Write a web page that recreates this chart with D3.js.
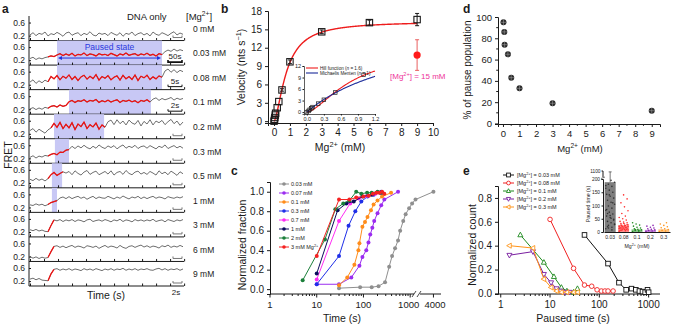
<!DOCTYPE html>
<html lang="en">
<head>
<meta charset="UTF-8">
<title>Mg2+ dependence of transcription pausing</title>
<script src="https://d3js.org/d3.v7.min.js"></script>
<style>
  body { margin: 0; background: #fff; }
  svg { display: block; font-family: "Liberation Sans", Arial, sans-serif; }
</style>
</head>
<body>
<svg width="674" height="324"></svg>
<script>
// ---------- data ----------
// panel a: single-molecule FRET traces (FRET x 100), one per [Mg2+]
const mgLabels = ["0 mM", "0.03 mM", "0.08 mM", "0.1 mM", "0.2 mM", "0.3 mM", "0.5 mM", "1 mM", "3 mM", "6 mM", "9 mM"];
const traces = [
  "22 29 20 27 24 31 19 26 23 30 25 18 28 31 21 26 29 20 27 23 32 22 19 28 24 27 20 30 25 21 29 18 27 24 31 20 26 29 22 27 19 31 24 21 29 25 20 27 32 22 28 24",
  "25 29 22 27 24 28 30 33 31 36 40 34 39 35 41 33 38 36 42 34 39 37 33 40 36 38 34 41 37 33 39 36 42 35 38 40 34 39 36 41 35 38 33 40 37 46 51 47 54 48 52 49",
  "28 35 24 32 26 34 29 45 38 48 35 46 40 50 36 45 33 44 49 37 46 39 51 34 45 40 48 35 43 47 34 49 38 45 36 50 33 46 41 49 36 44 38 47 43 62 68 58 66 57 64 60",
  "21 25 19 24 20 26 23 29 31 27 33 29 32 43 47 41 46 44 49 42 47 45 50 41 46 43 48 42 46 49 41 47 44 48 43 46 40 47 44 49 42 51 55 47 53 49 52 56 48 54 50 53",
  "30 36 25 34 28 22 32 38 52 40 55 36 49 38 54 33 50 42 56 36 48 41 53 34 47 40 57 62 48 63 51 59 47 62 53 49 61 44 58 50 63 47 59 54 61 48 57 64 51 59 46 56",
  "23 28 21 27 24 29 27 32 35 31 39 38 45 47 57 50 58 52 60 53 49 57 51 61 54 50 58 53 59 49 56 61 51 57 53 60 50 56 58 51 59 54 49 57 53 61 50 55 59 52 57 51",
  "31 27 34 28 32 26 33 45 52 43 49 54 50 55 45 57 49 44 53 58 46 52 56 45 50 55 47 57 44 52 55 46 58 49 45 53 56 47 52 46 55 50 44 57 48 53 45 56 50 43 54 48",
  "28 26 31 27 30 25 29 35 38 41 49 52 47 53 47 51 54 48 52 45 50 54 47 52 49 48 54 50 46 52 48 55 50 46 52 49 54 47 52 47 51 54 48 52 50 46 53 50 48 52 49 53",
  "27 24 28 23 26 22 21 40 57 54 58 52 57 54 58 52 57 55 51 57 59 52 55 57 53 58 55 51 57 54 59 52 57 55 51 58 54 57 53 57 54 59 52 55 57 51 58 55 52 57 54 58",
  "20 15 19 14 18 15 17 35 51 53 48 52 47 51 54 48 52 50 46 53 51 48 52 45 50 54 48 52 50 46 54 48 45 51 53 48 52 55 49 53 48 52 50 46 53 50 55 48 52 49 54 50",
  "26 29 24 28 23 22 21 42 56 58 53 57 54 58 53 57 55 52 58 54 57 53 58 55 52 57 54 58 53 57 55 59 53 57 54 58 53 57 55 58 54 53 57 59 54 58 53 57 55 58 53 57"
];
// paused (red) segment and shaded pause window, in trace sample units
const redSpans = [null, [6, 44], [6, 44], [6, 40], [7, 25], [6, 13], [6, 11], [6, 9], [6, 8], [6, 8], [6, 8]];
const pauseSpans = [null, [9, 44], [9, 44], [13, 40.3], [8, 24.7], [8.3, 13], [7.3, 10.7], [7.3, 9], null, null, null];
const scaleBarText = ["", "50s", "5s", "2s", "", "", "", "", "", "", "2s"];

// panel b: velocity vs Mg2+
const bConc = [0, 0.03, 0.05, 0.08, 0.1, 0.2, 0.3, 0.5, 1, 3, 6, 9];
const bVel = [0, 0.3, 0.6, 1.0, 1.3, 2.2, 3.2, 5.1, 9.7, 14.6, 16.1, 16.6];
const bErr = [0, 0, 0, 0, 0, 0, 0, 0.2, 0.3, 0.3, 0.4, 1.0];
const hillVmax = 16.3, hillK = 0.8, hillN = 1.6;
const mmVmax = 24.1, mmK = 1.91;
const highMg = { conc: 9, vel: 10.8, err: 2.5 };

// panel c: cumulative fraction vs time
const cNames = ["0.03 mM", "0.07 mM", "0.1 mM", "0.3 mM", "0.7 mM", "1 mM", "2 mM", "3 mM Mg^{2+}"];
const cColors = ["#8f8f8f", "#9b2cf0", "#ff8c1a", "#1f2fe8", "#ff2cf4", "#0b0b5c", "#1b7f3a", "#f52222"];
const cTimes = [
  [30, 85, 150, 210, 290, 355, 410, 475, 550, 610, 710, 800, 950, 1100, 1300, 4000],
  [10, 30, 55, 82, 95, 115, 128, 140, 155, 170, 200, 240, 280, 550],
  [30, 45, 64, 78, 82, 95, 108, 122, 145, 165, 200, 250, 390],
  [10, 30, 48, 67, 90, 122, 165, 240],
  [10, 30, 52, 80, 120, 180, 250],
  [10, 28, 43, 62, 95, 150, 230],
  [5, 15, 25, 37, 50, 70, 90, 120, 150, 200, 250],
  [10, 30, 50, 70, 100, 130, 160, 190, 220, 250, 280]
];
const cFrac = [
  [0.01, 0.02, 0.02, 0.03, 0.07, 0.23, 0.34, 0.42, 0.5, 0.6, 0.7, 0.77, 0.83, 0.88, 0.92, 1.0],
  [0.05, 0.05, 0.12, 0.24, 0.33, 0.40, 0.48, 0.56, 0.63, 0.70, 0.78, 0.86, 0.92, 1.0],
  [0.04, 0.12, 0.25, 0.40, 0.47, 0.64, 0.69, 0.74, 0.81, 0.87, 0.91, 0.95, 0.99],
  [0.05, 0.34, 0.65, 0.80, 0.90, 0.95, 0.97, 1.0],
  [0.10, 0.70, 0.88, 0.93, 0.96, 0.98, 0.99],
  [0.16, 0.81, 0.88, 0.90, 0.95, 0.97, 0.99],
  [0.09, 0.51, 0.82, 0.88, 0.91, 1.0, 0.98, 0.99, 0.99, 1.0, 0.99],
  [0.34, 0.92, 0.92, 0.94, 0.95, 0.96, 0.98, 0.99, 0.99, 1.0, 0.98]
];

// panel d: % of pause population
const dConc = [0.03, 0.08, 0.1, 0.3, 0.5, 1, 3, 9];
const dPause = [95, 86, 74, 65, 43, 33, 19, 12];

// panel e: paused time distributions
const eNames = ["[Mg^{2+}] = 0.03 mM", "[Mg^{2+}] = 0.08 mM", "[Mg^{2+}] = 0.1 mM", "[Mg^{2+}] = 0.2 mM", "[Mg^{2+}] = 0.3 mM"];
const eColors = ["#111111", "#f02020", "#1f8a1f", "#7a1fa0", "#ff9419"];
const eSymbols = ["square", "circle", "up", "down", "left"];
const eTimes = [
  [50, 150, 250, 350, 450, 550, 650, 750, 850, 950, 1000],
  [10, 30, 50, 70, 90, 110, 130, 150, 190],
  [2.5, 7.5, 12, 17, 22, 30, 36],
  [1.5, 4.5, 7.5, 10.5, 13.5, 16.5, 20, 25],
  [1.5, 4.5, 7.5, 10.5, 13.5, 17, 22, 30, 36]
];
const eCount = [
  [0.49, 0.25, 0.09, 0.03, 0.04, 0.03, 0.02, 0.015, 0.01, 0.03, 0.01],
  [0.62, 0.21, 0.07, 0.06, 0.03, 0.02, 0.02, 0.02, 0.02],
  [0.49, 0.26, 0.14, 0.05, 0.02, 0.01, 0.04],
  [0.32, 0.35, 0.16, 0.09, 0.04, 0.02, 0.01, 0.01],
  [0.40, 0.38, 0.12, 0.05, 0.02, 0.01, 0.01, 0.01, 0.01]
];
// inset of e: mean paused time and individual events
const insetCats = ["0.03", "0.08", "0.1", "0.2", "0.3"];
const insetMeans = [188, 25, 10, 8, 10];
const insetEvents = [
  [12, 18, 25, 30, 35, 40, 48, 55, 60, 68, 75, 82, 90, 98, 105, 112, 120, 128, 135, 142, 150, 158, 165, 172, 180, 188, 195, 20, 45, 62, 85, 110, 140, 175, 8, 15, 28, 52, 70],
  [3, 5, 7, 8, 10, 12, 14, 15, 17, 18, 20, 22, 24, 25, 27, 30, 32, 35, 38, 40, 45, 50, 55, 60, 70, 80, 95, 110, 125, 140, 6, 9, 11, 13, 16, 19, 21, 23, 26, 28, 33],
  [2, 4, 6, 8, 10, 12, 15, 18, 22, 26, 30, 35, 5, 9],
  [2, 4, 6, 8, 10, 12, 15, 18, 22, 25],
  [2, 4, 6, 9, 12, 16, 20, 25, 30, 35]
];
const insetColors = ["#777777", "#ff3030", "#1f8a1f", "#8a1fb0", "#ff9419"];

// ---------- helpers ----------
const svg = d3.select("svg");
const INK = "#1a1a1a";

function rich(t, str, fs) {
  const parts = str.split(/(\^\{[^}]*\}|\*\{[^}]*\})/).filter(s => s.length);
  let up = false;
  parts.forEach(p => {
    if (p.startsWith("^{")) {
      t.append("tspan").attr("dy", -fs * 0.38).attr("font-size", fs * 0.7).text(p.slice(2, -1));
      up = true;
    } else if (p.startsWith("*{")) {
      t.append("tspan").attr("dy", up ? fs * 0.38 : 0).attr("font-style", "italic").text(p.slice(2, -1));
      up = false;
    } else {
      t.append("tspan").attr("dy", up ? fs * 0.38 : 0).text(p);
      up = false;
    }
  });
}

function label(g, x, y, str, fs, o = {}) {
  const t = g.append("text")
    .attr("x", x).attr("y", y)
    .attr("font-size", fs)
    .attr("text-anchor", o.anchor || "start")
    .attr("fill", o.fill || INK);
  if (o.weight) t.attr("font-weight", o.weight);
  if (o.rotate) t.attr("transform", `rotate(-90,${x},${y})`);
  rich(t, str, fs);
  return t;
}

function styleAxis(g, fs) {
  g.attr("font-family", null).attr("font-size", fs);
  g.selectAll("path.domain").attr("stroke", INK).attr("stroke-width", 1);
  g.selectAll(".tick line").attr("stroke", INK);
  g.selectAll(".tick text").attr("fill", INK);
  return g;
}

function marker(g, type, x, y, s, color, fill) {
  let p;
  if (type === "square") {
    p = g.append("rect").attr("x", x - s).attr("y", y - s).attr("width", 2 * s).attr("height", 2 * s);
  } else if (type === "circle") {
    p = g.append("circle").attr("cx", x).attr("cy", y).attr("r", s);
  } else {
    const pts = {
      up: [[0, -1.2], [1.1, 0.8], [-1.1, 0.8]],
      down: [[0, 1.2], [1.1, -0.8], [-1.1, -0.8]],
      left: [[-1.2, 0], [0.8, -1.1], [0.8, 1.1]]
    }[type];
    p = g.append("path").attr("d", "M" + pts.map(q => [x + q[0] * s, y + q[1] * s].join(",")).join("L") + "Z");
  }
  p.attr("fill", fill || "#fff").attr("stroke", color).attr("stroke-width", 0.9);
  return p;
}

// ---------- panel a ----------
const ga = svg.append("g");
label(ga, 2, 13, "a", 12, { weight: "bold" });
const rowBand = d3.scaleBand().domain(d3.range(traces.length)).range([16, 286]);
const tScale = d3.scaleLinear().domain([0, 51]).range([30, 183]);
const axisLeftX = 29;
label(ga, 127, 20, "DNA only", 9.5);
label(ga, 186, 20, "[Mg^{2+}]", 9.5);

traces.forEach((str, r) => {
  const vals = str.trim().split(/\s+/).map(v => +v / 100);
  const top = rowBand(r), bot = top + rowBand.bandwidth();
  const y = d3.scaleLinear().domain([0.05, 0.8]).range([bot, top]);
  const row = ga.append("g");

  if (pauseSpans[r]) {
    row.append("rect")
      .attr("x", tScale(pauseSpans[r][0])).attr("y", top)
      .attr("width", tScale(pauseSpans[r][1]) - tScale(pauseSpans[r][0]))
      .attr("height", bot - top)
      .attr("fill", "#c8c8f5");
  }
  const pts = vals.map((v, i) => [i, v]);
  const line = d3.line().x(d => tScale(d[0])).y(d => y(d[1]));
  row.append("path")
    .attr("d", line(pts))
    .attr("fill", "none").attr("stroke", "#6e6e6e").attr("stroke-width", 1);
  if (redSpans[r]) {
    const seg = pts.filter(d => d[0] >= redSpans[r][0] && d[0] <= redSpans[r][1]);
    row.append("path")
      .attr("d", line(seg))
      .attr("fill", "none").attr("stroke", "#ee1111").attr("stroke-width", 1.25);
  }
  // left ticks
  const ax = row.append("g").attr("transform", `translate(${axisLeftX},0)`)
    .call(d3.axisLeft(y).tickValues([0.2, 0.6]).tickSize(-2).tickPadding(4).tickFormat(d3.format(".1f")));
  styleAxis(ax, 8.5);
  ax.select("path.domain").remove();
  // bottom axis line with inner ticks
  const bx = row.append("g").attr("transform", `translate(0,${bot})`)
    .call(d3.axisBottom(tScale).tickValues(d3.range(0, 52, 4.67)).tickSize(-2.5).tickFormat(""));
  styleAxis(bx, 8);
  bx.select("path.domain").attr("d", `M${axisLeftX},0H${tScale.range()[1] + 1}`);
  label(ga, 193, (top + bot) / 2 + 3.5, mgLabels[r], 8.5);

  // time scale bar
  const sbY = bot - 3, x0 = r < 4 && r > 0 ? 168 : 173, x1 = 182;
  row.append("path")
    .attr("d", `M${x0},${sbY - 2}V${sbY}H${x1}V${sbY - 2}`)
    .attr("fill", "none").attr("stroke", r > 0 && r < 4 ? "#111" : "#777").attr("stroke-width", r === 1 ? 1.6 : 1);
  if (scaleBarText[r] && r < 10) label(ga, (x0 + x1) / 2, sbY - 3, scaleBarText[r], 8, { anchor: "middle" });
});
// last row scale bar label below axis
label(ga, 176, 295, scaleBarText[10], 8, { anchor: "middle" });
// left axis spine
ga.append("line").attr("x1", axisLeftX).attr("x2", axisLeftX).attr("y1", 16).attr("y2", 286).attr("stroke", INK);
// paused state annotation
{
  const r = 1, y0 = rowBand(r) + 17.5;
  const xa = tScale(pauseSpans[r][0]) + 1, xb = tScale(pauseSpans[r][1]) - 1;
  ga.append("line").attr("x1", xa + 3).attr("x2", xb - 3).attr("y1", y0).attr("y2", y0).attr("stroke", "#2233dd").attr("stroke-width", 1);
  ga.append("path").attr("d", `M${xa},${y0}l4,-2v4z M${xb},${y0}l-4,-2v4z`).attr("fill", "#2233dd");
  label(ga, (xa + xb) / 2, rowBand(r) + 9, "Paused state", 8.5, { anchor: "middle", fill: "#2b3ae0" });
}
label(ga, 106, 299, "Time (s)", 10.5, { anchor: "middle" });
label(ga, 12, 155, "FRET", 10.5, { anchor: "middle", rotate: true });

// ---------- panel b ----------
const gb = svg.append("g");
label(gb, 221, 13, "b", 12, { weight: "bold" });
const bx = d3.scaleLinear().domain([-0.38, 10]).range([268, 433]);
const by = d3.scaleLinear().domain([-0.3, 18]).range([123, 11]);
styleAxis(gb.append("g").attr("transform", "translate(0,123)")
  .call(d3.axisBottom(bx).tickValues(d3.range(0, 11)).tickSize(3).tickPadding(3)), 10);
styleAxis(gb.append("g").attr("transform", "translate(268,0)")
  .call(d3.axisLeft(by).tickValues(d3.range(0, 19, 3)).tickSize(3).tickPadding(3)), 10);
label(gb, 340, 151, "Mg^{2+} (mM)", 10.5, { anchor: "middle" });
label(gb, 245, 67, "Velocity (nts s^{\u22121})", 10.5, { anchor: "middle", rotate: true });

const hill = c => hillVmax * Math.pow(c, hillN) / (Math.pow(hillK, hillN) + Math.pow(c, hillN));
const mm = c => mmVmax * c / (mmK + c);
gb.append("path")
  .attr("d", d3.line().x(c => bx(c)).y(c => by(hill(c)))(d3.range(0, 9.001, 0.02)))
  .attr("fill", "none").attr("stroke", "#ee1c1c").attr("stroke-width", 1.4);
bConc.forEach((c, i) => {
  if (bErr[i] > 0) {
    gb.append("path")
      .attr("d", `M${bx(c) - 2},${by(bVel[i] + bErr[i])}h4M${bx(c)},${by(bVel[i] + bErr[i])}V${by(bVel[i] - bErr[i])}M${bx(c) - 2},${by(bVel[i] - bErr[i])}h4`)
      .attr("stroke", INK).attr("fill", "none");
  }
  marker(gb, "square", bx(c), by(bVel[i]), 3.2, INK, "none").attr("stroke-width", 1.1);
});
// high monovalent point
gb.append("path")
  .attr("d", `M${bx(highMg.conc) - 2},${by(highMg.vel + highMg.err)}h4M${bx(highMg.conc)},${by(highMg.vel + highMg.err)}V${by(highMg.vel - highMg.err)}M${bx(highMg.conc) - 2},${by(highMg.vel - highMg.err)}h4`)
  .attr("stroke", "#e96060").attr("fill", "none");
gb.append("circle").attr("cx", bx(highMg.conc)).attr("cy", by(highMg.vel)).attr("r", 3.6).attr("fill", "#ff1a1a");
label(gb, 390, 79, "[Mg^{2+}] = 15 mM", 8, { fill: "#ee3399" });

// inset
const ix = d3.scaleLinear().domain([-0.05, 1.2]).range([304, 375]);
const iy = d3.scaleLinear().domain([-0.5, 12]).range([114, 66]);
styleAxis(gb.append("g").attr("transform", "translate(0,114)")
  .call(d3.axisBottom(ix).tickValues([0, 0.3, 0.6, 0.9, 1.2]).tickSize(1.5).tickPadding(1.5).tickFormat(d3.format(".1f"))), 5.5)
  .select("path.domain").attr("stroke-width", 0.7);
styleAxis(gb.append("g").attr("transform", "translate(304,0)")
  .call(d3.axisLeft(iy).tickValues([0, 3, 6, 9, 12]).tickSize(1.5).tickPadding(1.5)), 5.5)
  .select("path.domain").attr("stroke-width", 0.7);
gb.append("path")
  .attr("d", d3.line().x(c => ix(c)).y(c => iy(hill(c)))(d3.range(0, 1.2001, 0.01)))
  .attr("fill", "none").attr("stroke", "#ee1c1c").attr("stroke-width", 1.1);
gb.append("path")
  .attr("d", d3.line().x(c => ix(c)).y(c => iy(mm(c)))(d3.range(0, 1.2001, 0.01)))
  .attr("fill", "none").attr("stroke", "#1a2a9a").attr("stroke-width", 1.1);
bConc.forEach((c, i) => {
  if (c <= 1.0) marker(gb, "square", ix(c), iy(bVel[i]), 1.8, INK, "none").attr("stroke-width", 0.7);
});
gb.append("line").attr("x1", 306).attr("x2", 318).attr("y1", 68).attr("y2", 68).attr("stroke", "#ee1c1c").attr("stroke-width", 1.1);
gb.append("line").attr("x1", 306).attr("x2", 318).attr("y1", 73).attr("y2", 73).attr("stroke", "#1a2a9a").attr("stroke-width", 1.1);
label(gb, 320, 69.8, "Hill function (*{n} = 1.6)", 4.6);
label(gb, 320, 74.8, "Michaelis Menten (*{n} = 1)", 4.6);

// ---------- panel c ----------
const gc = svg.append("g");
label(gc, 231, 175, "c", 12, { weight: "bold" });
const cxMain = d3.scaleLog().domain([1, 1400]).range([270, 417]);
const cxTail = d3.scaleLog().domain([3000, 5000]).range([425, 440]);
const cx = t => t > 2000 ? cxTail(t) : cxMain(t);
const cy = d3.scaleLinear().domain([-0.05, 1.1]).range([294, 182]);
{
  const axg = gc.append("g").attr("transform", "translate(0,294)");
  axg.append("path").attr("d", `M270,0H414M420,0H441`).attr("stroke", INK);
  axg.append("path").attr("d", `M412,3L416,-3M417,3L421,-3`).attr("stroke", INK).attr("stroke-width", 0.8);
  const major = [1, 10, 100, 1000];
  const minor = [];
  [1, 10, 100].forEach(dec => d3.range(2, 10).forEach(k => minor.push(dec * k)));
  minor.forEach(t => axg.append("line").attr("x1", cx(t)).attr("x2", cx(t)).attr("y1", 0).attr("y2", 2).attr("stroke", INK));
  major.concat([4000]).forEach(t => {
    axg.append("line").attr("x1", cx(t)).attr("x2", cx(t)).attr("y1", 0).attr("y2", 3.5).attr("stroke", INK);
    label(axg, cx(t) + (t === 1000 ? -1.5 : t === 4000 ? 1.5 : 0), 14, String(t), 9.5, { anchor: "middle" });
  });
}
styleAxis(gc.append("g").attr("transform", "translate(270,0)")
  .call(d3.axisLeft(cy).tickValues(d3.range(0, 1.01, 0.2)).tickSize(3).tickPadding(3).tickFormat(d3.format(".1f"))), 10);
label(gc, 342, 322, "Time (s)", 10.5, { anchor: "middle" });
label(gc, 246, 245, "Normalized fraction", 10.5, { anchor: "middle", rotate: true });
cTimes.forEach((ts, s) => {
  const pts = ts.map((t, i) => [t, cFrac[s][i]]);
  gc.append("path")
    .attr("d", d3.line().x(d => cx(d[0])).y(d => cy(d[1]))(pts))
    .attr("fill", "none").attr("stroke", cColors[s]).attr("stroke-width", 1);
  pts.forEach(d => gc.append("circle").attr("cx", cx(d[0])).attr("cy", cy(d[1])).attr("r", 2).attr("fill", cColors[s]));
});
cNames.forEach((n, s) => {
  const y = 184 + s * 9;
  gc.append("line").attr("x1", 279).attr("x2", 289).attr("y1", y).attr("y2", y).attr("stroke", cColors[s]);
  gc.append("circle").attr("cx", 284).attr("cy", y).attr("r", 1.8).attr("fill", cColors[s]);
  label(gc, 291, y + 2, n, 5.5);
});

// ---------- panel d ----------
const gd = svg.append("g");
label(gd, 463, 13, "d", 12, { weight: "bold" });
const dx = d3.scaleLinear().domain([-0.3, 9.5]).range([498, 660]);
const dy = d3.scaleLinear().domain([-0.5, 100]).range([124, 17]);
styleAxis(gd.append("g").attr("transform", "translate(0,124)")
  .call(d3.axisBottom(dx).tickValues(d3.range(0, 10)).tickSize(3).tickPadding(3)), 9.5);
gd.append("g").attr("transform", "translate(0,124)")
  .selectAll("line").data(d3.range(0.5, 9.5, 1)).join("line")
  .attr("x1", d => dx(d)).attr("x2", d => dx(d)).attr("y1", 0).attr("y2", 1.8).attr("stroke", INK);
styleAxis(gd.append("g").attr("transform", "translate(498,0)")
  .call(d3.axisLeft(dy).tickValues(d3.range(0, 101, 20)).tickSize(3).tickPadding(3)), 9.5);
gd.append("g").attr("transform", "translate(498,0)")
  .selectAll("line").data(d3.range(10, 100, 20)).join("line")
  .attr("y1", d => dy(d)).attr("y2", d => dy(d)).attr("x1", 0).attr("x2", -1.8).attr("stroke", INK);
label(gd, 580, 152, "Mg^{2+} (mM)", 9.5, { anchor: "middle" });
label(gd, 471, 70, "% of pause population", 10, { anchor: "middle", rotate: true });
dConc.forEach((c, i) => {
  const x = dx(c), y = dy(dPause[i]);
  gd.append("circle").attr("cx", x).attr("cy", y).attr("r", 3).attr("fill", "#2a2a2a");
  gd.append("path").attr("d", `M${x - 3},${y}h6M${x},${y - 3}v6`).attr("stroke", "#9a9a9a").attr("stroke-width", 0.6);
});

// ---------- panel e ----------
const ge = svg.append("g");
label(ge, 463, 175, "e", 12, { weight: "bold" });
const ex = d3.scaleLog().domain([0.88, 1700]).range([498, 660]);
const ey = d3.scaleLinear().domain([-0.005, 0.9]).range([294, 186]);
{
  const axg = ge.append("g").attr("transform", "translate(0,294)");
  axg.append("path").attr("d", `M498,0H660`).attr("stroke", INK);
  const minor = [];
  [1, 10, 100, 1000].forEach(dec => d3.range(1, 10).forEach(k => { if (dec * k < 1700) minor.push(dec * k); }));
  minor.forEach(t => axg.append("line").attr("x1", ex(t)).attr("x2", ex(t)).attr("y1", 0).attr("y2", [1, 10, 100, 1000].includes(t) ? 3.5 : 2).attr("stroke", INK));
  [1, 10, 100, 1000].forEach(t => label(axg, ex(t), 14, String(t), 10, { anchor: "middle" }));
}
styleAxis(ge.append("g").attr("transform", "translate(498,0)")
  .call(d3.axisLeft(ey).tickValues(d3.range(0, 0.81, 0.2)).tickSize(3).tickPadding(3).tickFormat(d3.format(".1f"))), 10);
label(ge, 573, 322, "Paused time (s)", 10.5, { anchor: "middle" });
label(ge, 476, 245, "Normalized count", 10.5, { anchor: "middle", rotate: true });
eTimes.forEach((ts, s) => {
  const pts = ts.map((t, i) => [t, eCount[s][i]]);
  ge.append("path")
    .attr("d", d3.line().x(d => ex(d[0])).y(d => ey(d[1]))(pts))
    .attr("fill", "none").attr("stroke", eColors[s]).attr("stroke-width", 1);
  pts.forEach(d => marker(ge, eSymbols[s], ex(d[0]), ey(d[1]), 2.3, eColors[s]));
});
eNames.forEach((n, s) => {
  const y = 175 + s * 8;
  ge.append("line").attr("x1", 503).attr("x2", 514).attr("y1", y).attr("y2", y).attr("stroke", eColors[s]);
  marker(ge, eSymbols[s], 508.5, y, 1.9, eColors[s]);
  label(ge, 517, y + 2, n, 5.5);
});

// inset bars
const ibx = d3.scaleBand().domain(insetCats).range([604, 670]).paddingInner(0.18).paddingOuter(0.05);
const iby = d3.scaleLinear().domain([0, 200]).range([232, 179]);
const ibTop = d3.scaleLinear().domain([200, 1100]).range([179, 171]);
const ibY = v => v > 200 ? ibTop(v) : iby(v);
insetCats.forEach((c, k) => {
  ge.append("rect").attr("x", ibx(c)).attr("y", ibY(insetMeans[k])).attr("width", ibx.bandwidth())
    .attr("height", 232 - ibY(insetMeans[k])).attr("fill", insetColors[k]).attr("opacity", k === 0 ? 0.95 : 0.55);
  insetEvents[k].forEach((v, i) => {
    const jitter = (((i * 7) % 11) / 10 - 0.5) * ibx.bandwidth() * 0.8;
    ge.append("circle").attr("cx", ibx(c) + ibx.bandwidth() / 2 + jitter).attr("cy", ibY(v)).attr("r", 0.8)
      .attr("fill", k === 0 ? "#333" : insetColors[k]);
  });
});
// error bar on first bar
ge.append("path").attr("d", `M${ibx("0.03") + ibx.bandwidth() / 2},${ibY(insetMeans[0])}V${ibY(1000)}m-1.5,0h3`).attr("stroke", "#222").attr("stroke-width", 0.6);
styleAxis(ge.append("g").attr("transform", "translate(0,232)")
  .call(d3.axisBottom(ibx).tickSize(0).tickPadding(3)), 5);
styleAxis(ge.append("g").attr("transform", "translate(603,0)")
  .call(d3.axisLeft(iby).tickValues([0, 50, 100, 150, 200]).tickSize(1.5).tickPadding(1.5)), 4.8);
{
  const g = ge.append("g").attr("transform", "translate(603,0)");
  g.append("path").attr("d", `M0,${ibTop(200) - 2}V${ibTop(1100)}`).attr("stroke", INK);
  g.append("line").attr("x1", -1.5).attr("x2", 0).attr("y1", ibTop(1100)).attr("y2", ibTop(1100)).attr("stroke", INK);
  label(g, -2.5, ibTop(1100) + 1.7, "1100", 4.8, { anchor: "end" });
  g.append("path").attr("d", `M-2,${ibTop(200) - 0.5}l4,-1.5`).attr("stroke", INK).attr("stroke-width", 0.6);
}
label(ge, 637, 248, "Mg^{2+} (mM)", 5.2, { anchor: "middle" });
label(ge, 590, 204, "Paused time (s)", 5.2, { anchor: "middle", rotate: true });
</script>
</body>
</html>
